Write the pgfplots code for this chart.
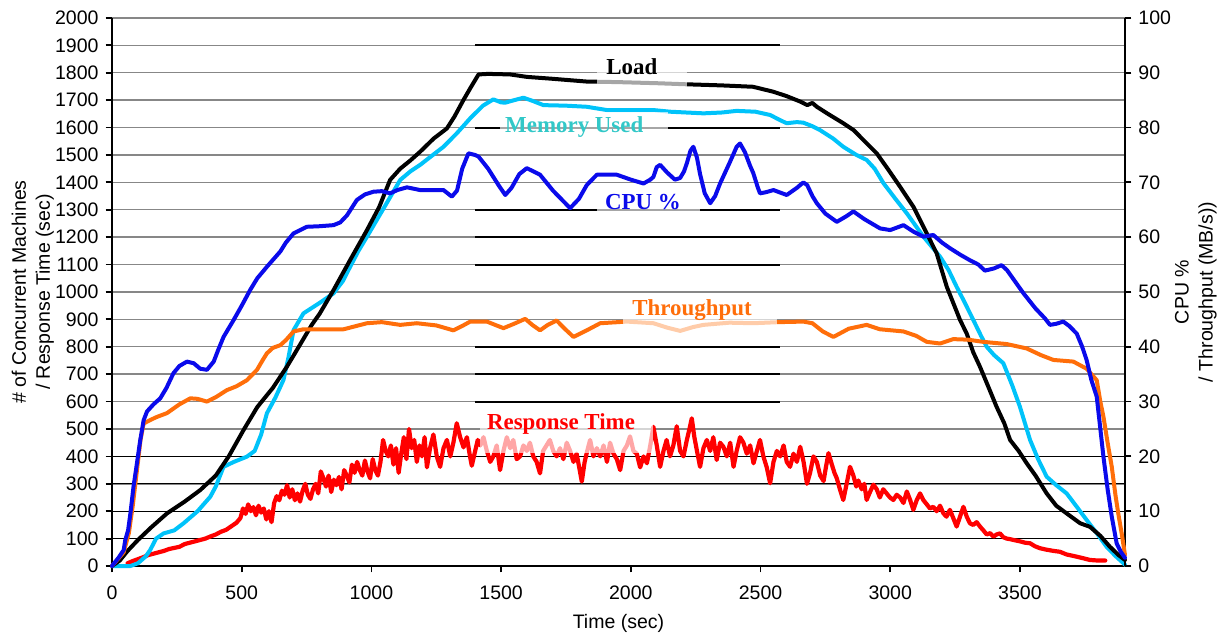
\documentclass[border=0pt]{standalone}
\usepackage{fontspec}
\setmainfont{Liberation Sans}
\newfontfamily\seriffont{Liberation Serif}
\usepackage{pgfplots}
\pgfplotsset{compat=1.18}

\definecolor{memc}{RGB}{0,195,250}
\definecolor{memlab}{RGB}{50,200,200}
\definecolor{cpuc}{RGB}{10,10,235}
\definecolor{thrc}{RGB}{255,110,10}
\definecolor{rspc}{RGB}{255,0,0}
\definecolor{gridc}{RGB}{135,135,135}

\pgfplotsset{
  base/.style={
    scale only axis, width=506.5bp, height=274bp,
    xmin=0, xmax=3905,
    font=\fontsize{9.8}{12}\selectfont,
    /pgf/number format/assume math mode=true,
    /pgf/number format/1000 sep={},
    tick align=outside, major tick length=3.2bp,
    tick style={black, line width=0.9bp},
    axis line style={black, line width=1.4bp},
    clip=false,
  },
  curve/.style={line width=2bp, line join=round, line cap=round, no markers},
}
\tikzset{
  serieslabel/.style={font=\seriffont\fontsize{11.5}{13}\selectfont\bfseries, inner sep=0pt},
  washbox/.style={fill=white, fill opacity=0.65, draw=none},
}

\begin{document}
\begin{tikzpicture}
\path[use as bounding box] (-56bp,-35bp) rectangle (557bp,283bp);

% ---------------- left scale: machines / response time ----------------
\begin{axis}[base,
  axis x line*=bottom, axis y line*=left,
  ymin=0, ymax=2000,
  ytick={0,100,...,2000},
  xtick={0,500,...,3500},
  xticklabel style={yshift=-3bp},
  ymajorgrids, major grid style={gridc, line width=0.7bp},
  xlabel={Time (sec)},
  xlabel style={at={(axis description cs:0.5,-0.088)}, anchor=north, inner sep=0pt},
  ylabel={\# of Concurrent Machines\\/ Response Time (sec)},
  ylabel style={align=center, at={(axis description cs:-0.057,0.5)}, anchor=south, inner sep=0pt},
]
% darker reference lines
\draw[black, line width=0.6bp] (axis cs:0,100) -- (axis cs:3905,100);
\draw[black, line width=0.6bp] (axis cs:0,200) -- (axis cs:3905,200);
\draw[black, line width=0.6bp] (axis cs:0,300) -- (axis cs:3905,300);
\draw[black, line width=0.6bp] (axis cs:0,400) -- (axis cs:3905,400);
\draw[black, line width=1bp] (axis cs:1400,600) -- (axis cs:2575,600);
\draw[black, line width=1bp] (axis cs:1400,700) -- (axis cs:2575,700);
\draw[black, line width=1bp] (axis cs:1400,800) -- (axis cs:2575,800);
\draw[black, line width=1bp] (axis cs:1400,1100) -- (axis cs:2575,1100);
\draw[black, line width=1bp] (axis cs:1400,1200) -- (axis cs:2575,1200);
\draw[black, line width=1bp] (axis cs:1400,1300) -- (axis cs:2575,1300);
\draw[black, line width=1bp] (axis cs:1400,1600) -- (axis cs:2575,1600);
\draw[black, line width=1bp] (axis cs:1400,1900) -- (axis cs:2575,1900);

% Response Time (sec)
\addplot[curve, rspc, line width=2.1bp] coordinates {
(60,10) (80,18) (100,25) (120,32) (140,40) (160,45) (180,50) (200,55) (220,62) (240,66)
(260,70) (280,80) (300,85) (320,90) (340,95) (360,100) (380,108) (400,115) (420,125) (440,132)
(460,145) (480,158) (495,175) (505,210) (515,190) (525,225) (535,200) (545,215) (555,185) (565,220)
(575,195) (585,210) (595,170) (605,200) (615,160) (625,230) (635,255) (645,240) (655,275) (665,260)
(675,295) (685,250) (695,280) (705,240) (715,265) (725,235) (735,275) (745,300) (755,260) (765,245)
(775,280) (785,300) (795,265) (805,345) (815,320) (825,290) (835,330) (845,270) (855,315) (865,295)
(875,325) (885,280) (895,350) (905,330) (915,305) (925,370) (935,340) (945,380) (955,350) (965,330)
(975,385) (985,345) (995,320) (1005,390) (1015,350) (1025,330) (1035,380) (1045,460) (1055,420) (1065,400)
(1075,440) (1085,370) (1095,430) (1105,340) (1115,410) (1125,470) (1135,390) (1145,500) (1155,430) (1165,460)
(1175,380) (1185,440) (1195,400) (1205,470) (1214,360) (1226,430) (1239,480) (1252,400) (1265,362) (1278,430)
(1291,460) (1304,400) (1316,450) (1329,521) (1342,470) (1355,433) (1368,470) (1380,400) (1387,366) (1400,420)
(1410,460) (1420,440) (1432,470) (1445,420) (1458,380) (1470,400) (1483,440) (1496,350) (1509,420) (1522,470)
(1535,430) (1547,460) (1560,390) (1573,400) (1586,440) (1599,420) (1611,450) (1624,400) (1637,380) (1650,338)
(1662,420) (1675,440) (1688,460) (1701,420) (1714,400) (1727,430) (1740,390) (1753,450) (1766,420) (1779,380)
(1791,410) (1801,360) (1811,308) (1822,380) (1832,420) (1843,460) (1856,400) (1869,430) (1882,400) (1895,440)
(1908,380) (1920,450) (1933,410) (1946,390) (1959,350) (1972,420) (1985,440) (1997,473) (2010,420) (2023,410)
(2036,360) (2049,400) (2062,375) (2075,440) (2087,508) (2100,440) (2113,362) (2126,420) (2138,460) (2151,400)
(2164,440) (2177,510) (2190,420) (2203,400) (2216,460) (2226,500) (2235,539) (2245,470) (2255,420) (2267,362)
(2280,430) (2293,460) (2306,420) (2318,470) (2331,387) (2344,450) (2357,435) (2370,400) (2383,450) (2396,362)
(2408,420) (2421,470) (2434,450) (2447,410) (2460,440) (2473,375) (2486,420) (2498,460) (2511,400) (2524,360)
(2537,302) (2550,380) (2563,420) (2576,400) (2589,440) (2601,380) (2614,362) (2627,410) (2640,380) (2653,435)
(2666,380) (2679,300) (2691,340) (2704,400) (2717,380) (2730,330) (2743,310) (2752,360) (2762,412) (2775,370)
(2785,340) (2794,320) (2806,280) (2819,241) (2832,300) (2845,362) (2858,330) (2869,290) (2877,312) (2890,280)
(2900,300) (2909,241) (2922,270) (2935,297) (2948,280) (2960,250) (2973,280) (2986,265) (2999,250) (3012,241)
(3025,260) (3038,250) (3051,230) (3064,272) (3077,240) (3089,205) (3102,240) (3115,265) (3128,240) (3141,225)
(3153,210) (3166,216) (3179,200) (3192,220) (3205,192) (3217,180) (3230,205) (3243,175) (3256,144) (3269,180)
(3282,216) (3295,180) (3307,156) (3320,150) (3333,160) (3346,144) (3359,130) (3372,115) (3385,120) (3398,107)
(3410,115) (3423,119) (3436,105) (3449,100) (3462,98) (3475,95) (3500,90) (3520,85) (3539,83) (3558,72)
(3577,65) (3600,60) (3630,55) (3654,52) (3680,42) (3700,38) (3719,34) (3745,28) (3770,22) (3800,20) (3829,20)
};

% Memory Used
\addplot[curve, memc] coordinates {
(0,0) (71,0) (100,10) (130,35) (147,58) (170,100) (199,119) (240,130) (276,156) (330,200)
(379,253) (400,290) (430,362) (470,380) (520,399) (550,420) (575,480) (597,557) (630,615) (661,679)
(680,760) (700,861) (738,922) (800,960) (854,995) (890,1040) (918,1092) (950,1150) (983,1202) (1050,1310)
(1111,1409) (1150,1440) (1188,1464) (1230,1495) (1278,1530) (1330,1580) (1381,1634) (1430,1680) (1470,1703) (1500,1692)
(1516,1691) (1550,1700) (1586,1709) (1620,1698) (1663,1682) (1750,1680) (1830,1676) (1908,1664) (2000,1664) (2087,1664)
(2151,1658) (2280,1652) (2350,1655) (2408,1661) (2480,1658) (2537,1646) (2580,1625) (2601,1616) (2640,1620) (2665,1618)
(2700,1605) (2729,1591) (2780,1560) (2819,1530) (2870,1500) (2909,1482) (2940,1450) (2974,1397) (3020,1340) (3064,1287)
(3128,1202) (3192,1129) (3225,1080) (3256,1019) (3282,971) (3314,910) (3350,840) (3372,800) (3400,770) (3436,740)
(3470,660) (3500,581) (3539,460) (3570,390) (3603,326) (3640,295) (3680,265) (3720,215) (3757,168) (3800,115)
(3834,70) (3870,35) (3905,5)
};

% Load (# of concurrent machines)
\addplot[curve, black] coordinates {
(0,0) (30,20) (60,55) (100,95) (150,140) (212,192) (280,235) (340,277) (400,330) (450,400)
(507,496) (560,580) (620,650) (674,727) (720,800) (770,880) (800,920) (854,1007) (920,1120) (983,1226)
(1030,1310) (1072,1409) (1111,1450) (1150,1480) (1188,1512) (1240,1560) (1291,1597) (1320,1640) (1355,1701) (1385,1750)
(1413,1794) (1450,1796) (1535,1794) (1600,1785) (1700,1778) (1830,1768) (1950,1766) (2100,1762) (2216,1758) (2350,1754)
(2471,1749) (2549,1731) (2600,1715) (2653,1695) (2680,1682) (2700,1690) (2717,1676) (2760,1650) (2819,1616) (2860,1590)
(2896,1555) (2948,1506) (2990,1450) (3038,1384) (3090,1310) (3128,1238) (3179,1141) (3218,1019) (3243,960) (3269,898)
(3295,848) (3320,780) (3346,727) (3380,650) (3410,581) (3440,520) (3462,460) (3495,420) (3526,375) (3560,330)
(3603,265) (3640,220) (3680,192) (3732,156) (3770,143) (3810,110) (3847,70) (3880,40) (3905,22)
};
\end{axis}

% ---------------- right scale: CPU % / throughput ----------------
\begin{axis}[base,
  axis x line=none, axis y line*=right,
  ymin=0, ymax=100,
  ytick={0,10,...,100},
  ylabel={CPU \%\\/ Throughput (MB/s))},
  ylabel style={align=center, at={(axis description cs:1.049,0.5)}, anchor=north, inner sep=0pt},
]
% Throughput (MB/s)
\addplot[curve, thrc] coordinates {
(0,0) (45,2.5) (65,6) (80,11) (95,17) (110,23) (122,26) (150,26.7) (173,27.2) (212,27.9)
(260,29.5) (302,30.6) (330,30.5) (366,30) (400,30.8) (443,32.1) (480,32.8) (520,33.9) (559,35.8) (580,37.5)
(597,38.8) (620,39.8) (649,40.3) (670,41.2) (700,42.8) (738,43.2) (800,43.2) (893,43.2) (983,44.3) (1040,44.5)
(1111,44) (1175,44.3) (1250,43.9) (1316,43) (1350,43.8) (1381,44.6) (1445,44.6) (1509,43.4) (1550,44.2) (1593,45.1)
(1620,44) (1650,43) (1680,44) (1714,44.8) (1745,43.3) (1779,41.8) (1830,43) (1882,44.3) (1985,44.6) (2087,44.3)
(2140,43.5) (2190,42.9) (2240,43.6) (2280,44) (2380,44.4) (2472,44.3) (2570,44.5) (2665,44.6) (2700,44.3) (2740,42.8)
(2781,41.8) (2840,43.3) (2909,44) (2960,43.2) (3051,42.8) (3100,42) (3141,40.9) (3192,40.6) (3243,41.4) (3300,41.3)
(3359,40.9) (3449,40.5) (3526,39.7) (3580,38.5) (3629,37.6) (3706,37.3) (3757,36) (3785,34.5) (3796,33.9) (3810,30)
(3822,27.2) (3838,22.5) (3854,18.1) (3868,13) (3879,9.6) (3892,6) (3905,2)
};

% CPU %
\addplot[curve, cpuc] coordinates {
(0,0) (25,1.5) (45,2.9) (51,4.7) (62,6.5) (71,9.6) (83,14.5) (96,18.7) (109,23) (122,26.6)
(135,28.2) (160,29.5) (186,30.6) (210,32.5) (237,35.2) (260,36.5) (289,37.3) (315,37) (340,36) (366,35.8)
(392,37.3) (410,39.5) (430,41.8) (469,44.9) (500,47.5) (533,50.4) (560,52.5) (597,54.6) (649,57.4) (670,59)
(700,60.7) (751,61.9) (800,62) (854,62.2) (880,62.7) (906,64) (944,66.8) (975,67.8) (1008,68.3) (1040,68.4)
(1072,68) (1100,68.6) (1137,69.1) (1188,68.6) (1239,68.6) (1278,68.6) (1310,67.4) (1330,68.5) (1350,72.5) (1374,75.3)
(1400,75) (1413,74.7) (1450,72.5) (1490,69.5) (1516,67.7) (1540,69) (1570,71.5) (1599,72.6) (1650,71.4) (1700,68.5)
(1766,65.3) (1800,67) (1830,69.5) (1869,71.4) (1946,71.4) (2000,70.5) (2049,69.8) (2075,70.5) (2087,71) (2100,72.8)
(2113,73.2) (2140,71.8) (2170,70.5) (2190,70.8) (2205,72) (2216,73.5) (2230,75.8) (2241,76.5) (2255,74.5) (2267,71.5)
(2285,68) (2306,66.2) (2325,67.5) (2344,69.8) (2380,73.5) (2408,76.5) (2421,77.1) (2440,75.5) (2460,73) (2472,71.7)
(2490,69) (2498,68) (2520,68.2) (2550,68.6) (2601,67.7) (2640,69) (2665,70) (2680,69.5) (2700,67.5) (2717,66.2)
(2750,64.3) (2794,62.8) (2830,63.8) (2858,64.7) (2900,63.3) (2961,61.6) (3000,61.3) (3051,62.2) (3090,61) (3128,60.1)
(3166,60.4) (3200,59) (3230,58) (3270,56.8) (3307,55.8) (3340,55) (3365,53.9) (3400,54.3) (3429,54.9) (3450,54)
(3513,49.8) (3560,47) (3596,45.2) (3616,44) (3640,44.2) (3667,44.6) (3690,43.8) (3719,42.4) (3740,40) (3757,37.6)
(3775,34) (3796,30.9) (3810,25) (3822,19.9) (3838,14) (3854,9) (3873,4.1) (3890,2.5) (3905,1.5)
};

% series captions on washed-out panels
\fill[washbox] (axis cs:1870,93.2) rectangle (axis cs:2217,87.2);
\fill[washbox] (axis cs:1496,82.8) rectangle (axis cs:2145,76.8);
\fill[washbox] (axis cs:1870,68.6) rectangle (axis cs:2267,64.1);
\fill[washbox] (axis cs:1970,48.9) rectangle (axis cs:2564,42.2);
\fill[washbox] (axis cs:1419,28.5) rectangle (axis cs:2086,20.6);
\node[serieslabel, black]  at (axis cs:2004,91.2) {Load};
\node[serieslabel, memlab] at (axis cs:1782,80.1) {Memory Used};
\node[serieslabel, cpuc]   at (axis cs:2047,66.4) {CPU \%};
\node[serieslabel, thrc]   at (axis cs:2236,46.7) {Throughput};
\node[serieslabel, rspc]   at (axis cs:1731,25.9) {Response Time};
\end{axis}
\end{tikzpicture}
\end{document}
